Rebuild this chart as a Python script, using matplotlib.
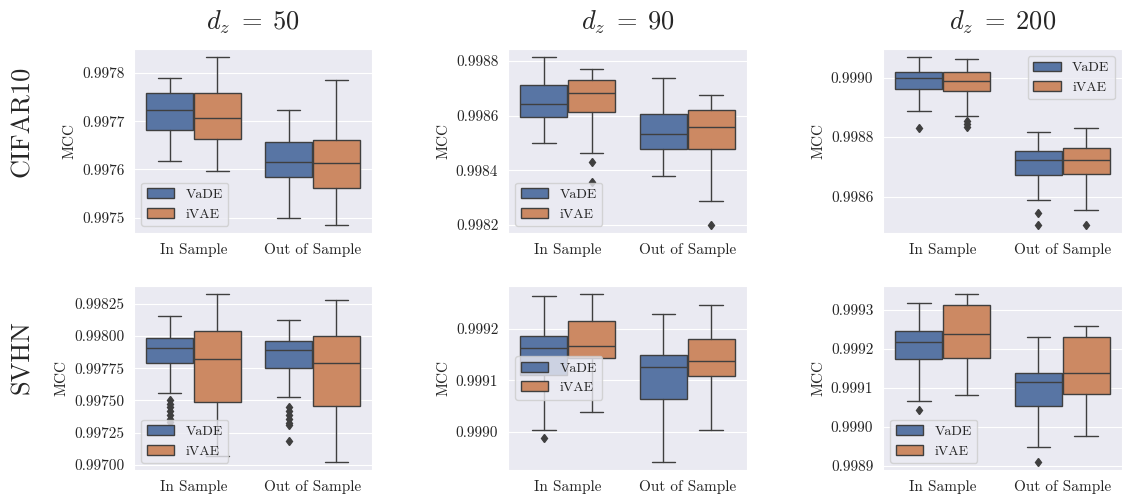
import matplotlib
matplotlib.use("Agg")
import matplotlib.pyplot as plt
import seaborn as sns
from matplotlib.patches import Patch
from matplotlib.ticker import FixedLocator, FormatStrFormatter

sns.set_style("darkgrid")
plt.rcParams["font.family"] = ["serif"]
plt.rcParams["font.serif"] = ["cmr10", "DejaVu Serif"]
plt.rcParams["mathtext.fontset"] = "cm"
plt.rcParams["axes.unicode_minus"] = False
plt.rcParams["axes.formatter.use_mathtext"] = True

# ---------------- data ----------------
categories = ["In Sample", "Out of Sample"]
methods = ["VaDE", "iVAE"]
col_titles = [r"$d_z \;=\; 50$", r"$d_z \;=\; 90$", r"$d_z \;=\; 200$"]
row_titles = ["CIFAR10", "SVHN"]

# stats per panel: [method][category] = (whislo, q1, med, q3, whishi)
cifar_50 = [[(0.997617, 0.997681, 0.997723, 0.997758, 0.997790),
             (0.997500, 0.997585, 0.997616, 0.997657, 0.997723)],
            [(0.997597, 0.997663, 0.997706, 0.997759, 0.997834),
             (0.997485, 0.997562, 0.997614, 0.997661, 0.997786)]]
cifar_50_fliers = [[[], []], [[], []]]

cifar_90 = [[(0.998501, 0.998596, 0.998642, 0.998712, 0.998816),
             (0.998381, 0.998477, 0.998533, 0.998607, 0.998738)],
            [(0.998463, 0.998613, 0.998683, 0.998732, 0.998770),
             (0.998287, 0.998479, 0.998558, 0.998622, 0.998677)]]
cifar_90_fliers = [[[], []], [[0.998432, 0.998356], [0.998200]]]

cifar_200 = [[(0.998889, 0.998963, 0.998997, 0.999020, 0.999070),
              (0.998588, 0.998673, 0.998722, 0.998754, 0.998817)],
             [(0.998872, 0.998954, 0.998987, 0.999020, 0.999061),
              (0.998555, 0.998677, 0.998722, 0.998765, 0.998829)]]
cifar_200_fliers = [[[0.998831], [0.998544, 0.998505]],
                    [[0.998855, 0.998844, 0.998834], [0.998505]]]

svhn_50 = [[(0.997559, 0.997794, 0.997910, 0.997987, 0.998157),
            (0.997528, 0.997753, 0.997892, 0.997964, 0.998126)],
           [(0.997070, 0.997485, 0.997822, 0.998036, 0.998327),
            (0.997021, 0.997459, 0.997789, 0.998003, 0.998276)]]
svhn_50_fliers = [[[0.997500, 0.997474, 0.997449, 0.997418, 0.997387, 0.997356, 0.997330],
                   [0.997450, 0.997420, 0.997389, 0.997358, 0.997327, 0.997307, 0.997186]],
                  [[], []]]

svhn_90 = [[(0.999004, 0.999110, 0.999164, 0.999187, 0.999265),
            (0.998940, 0.999064, 0.999125, 0.999150, 0.999230)],
           [(0.999038, 0.999143, 0.999167, 0.999216, 0.999269),
            (0.999003, 0.999109, 0.999138, 0.999181, 0.999246)]]
svhn_90_fliers = [[[0.998988], []], [[], []]]

svhn_200 = [[(0.999067, 0.999174, 0.999218, 0.999245, 0.999317),
             (0.998947, 0.999054, 0.999115, 0.999137, 0.999231)],
            [(0.999081, 0.999177, 0.999239, 0.999313, 0.999341),
             (0.998977, 0.999083, 0.999139, 0.999230, 0.999258)]]
svhn_200_fliers = [[[0.999042], [0.998910]], [[], []]]

panels = [[(cifar_50, cifar_50_fliers), (cifar_90, cifar_90_fliers), (cifar_200, cifar_200_fliers)],
          [(svhn_50, svhn_50_fliers), (svhn_90, svhn_90_fliers), (svhn_200, svhn_200_fliers)]]

yticks = [[[0.9975, 0.9976, 0.9977, 0.9978], [0.9982, 0.9984, 0.9986, 0.9988], [0.9986, 0.9988, 0.9990]],
          [[0.99700, 0.99725, 0.99750, 0.99775, 0.99800, 0.99825], [0.9990, 0.9991, 0.9992],
           [0.9989, 0.9990, 0.9991, 0.9992, 0.9993]]]
ylims = [[(0.997468, 0.99785), (0.998171, 0.998844), (0.998478, 0.999096)],
         [(0.996961, 0.998387), (0.998925, 0.999284), (0.998889, 0.999361)]]
yfmt = [["%.4f", "%.4f", "%.4f"], ["%.5f", "%.4f", "%.4f"]]
legend_locs = [["lower left", "lower left", "upper right"],
               ["lower left", "center left", "lower left"]]

colors = ["#5875A4", "#CC8963"]
line_color = "#3f3f3f"

# ---------------- layout ----------------
fig = plt.figure(figsize=(11.24, 4.98), dpi=100)
W, H = 1124, 498
col_x = [(134, 372), (508, 747), (883, 1122)]
row_y = [(49, 233), (286, 470)]

for r in range(2):
    for c in range(3):
        x0, x1 = col_x[c]
        y0, y1 = row_y[r]
        ax = fig.add_axes([x0 / W, 1 - y1 / H, (x1 - x0) / W, (y1 - y0) / H])
        stats_tab, fliers_tab = panels[r][c]
        for m in range(2):
            stats = []
            positions = []
            for k in range(2):
                lo, q1, med, q3, hi = stats_tab[m][k]
                stats.append(dict(whislo=lo, q1=q1, med=med, q3=q3, whishi=hi,
                                  fliers=fliers_tab[m][k]))
                positions.append(k + (-0.2 if m == 0 else 0.2))
            ax.bxp(stats, positions=positions, widths=0.392, patch_artist=True,
                   showfliers=True, manage_ticks=False,
                   boxprops=dict(facecolor=colors[m], edgecolor=line_color, linewidth=1.0),
                   medianprops=dict(color=line_color, linewidth=1.0),
                   whiskerprops=dict(color=line_color, linewidth=1.0),
                   capprops=dict(color=line_color, linewidth=1.0),
                   flierprops=dict(marker="d", markerfacecolor=line_color,
                                   markeredgecolor=line_color, markersize=4.5,
                                   linestyle="none"),
                   zorder=2)
        ax.set_xlim(-0.5, 1.5)
        ax.set_xticks([0, 1])
        ax.set_xticklabels(categories, fontsize=11)
        ax.xaxis.grid(False)
        ax.set_ylim(*ylims[r][c])
        ax.yaxis.set_major_locator(FixedLocator(yticks[r][c]))
        ax.yaxis.set_major_formatter(FormatStrFormatter(yfmt[r][c]))
        ax.tick_params(axis="y", labelsize=11)
        ax.set_ylabel("MCC", fontsize=11)
        handles = [Patch(facecolor=colors[i], edgecolor=line_color, linewidth=1.0)
                   for i in range(2)]
        ax.legend(handles, methods, loc=legend_locs[r][c], fontsize=10)
        if r == 0:
            ax.set_title(col_titles[c], fontsize=19, pad=14)

fig.text(22 / W, 1 - 121 / H, row_titles[0], rotation=90, fontsize=19,
         ha="center", va="center")
fig.text(22 / W, 1 - 357 / H, row_titles[1], rotation=90, fontsize=19,
         ha="center", va="center")

fig.savefig("out.png", dpi=100)
